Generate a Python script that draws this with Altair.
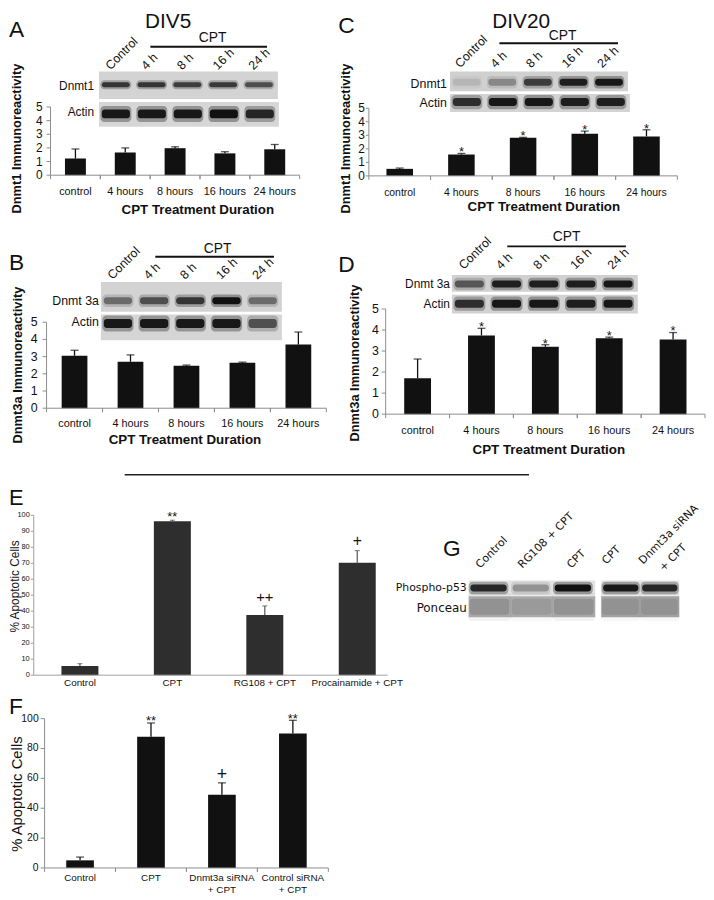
import altair as alt
import pandas as pd

# ---------------- data ----------------
time_cats = ["control", "4 hours", "8 hours", "16 hours", "24 hours"]
lane_names = ["Control", "4 h", "8 h", "16 h", "24 h"]
ticks_5 = [0, 1, 2, 3, 4, 5]
ticks_e = [0, 10, 20, 30, 40, 50, 60, 70, 80, 90, 100]
ticks_f = [0, 20, 40, 60, 80, 100]

a_vals = [1.22, 1.67, 1.98, 1.60, 1.90]
a_errs = [0.70, 0.33, 0.10, 0.12, 0.35]
a_sig = ["", "", "", "", ""]

b_vals = [3.05, 2.70, 2.47, 2.64, 3.70]
b_errs = [0.32, 0.40, 0.04, 0.04, 0.73]
b_sig = ["", "", "", "", ""]

c_vals = [0.52, 1.58, 2.82, 3.12, 2.92]
c_errs = [0.06, 0.08, 0.03, 0.19, 0.49]
c_sig = ["", "*", "*", "*", "*"]

d_vals = [1.71, 3.74, 3.20, 3.61, 3.55]
d_errs = [0.91, 0.34, 0.10, 0.05, 0.33]
d_sig = ["", "*", "*", "*", "*"]

e_cats = ["Control", "CPT", "RG108 + CPT", "Procainamide + CPT"]
e_vals = [5.8, 96.3, 37.7, 70.3]
e_errs = [1.4, 0.6, 5.6, 7.6]
e_sig = ["", "**", "++", "+"]

f_cats = ["Control", "CPT", "Dnmt3a siRNA\n+ CPT", "Control siRNA\n+ CPT"]
f_vals = [5.1, 87.9, 49.0, 90.1]
f_errs = [2.2, 9.2, 8.0, 8.8]
f_sig = ["", "**", "+", "**"]

# western blot band intensities (0 = none, 1 = darkest)
a_dnmt1_bands = [0.75, 0.75, 0.70, 0.72, 0.60]
a_actin_bands = [0.95, 0.95, 0.95, 1.00, 0.85]
c_dnmt1_bands = [0.10, 0.30, 0.70, 0.90, 0.95]
c_actin_bands = [0.80, 0.95, 0.95, 0.90, 0.90]
b_dnmt3a_bands = [0.45, 0.60, 0.75, 1.00, 0.45]
b_actin_bands = [0.95, 0.95, 0.95, 0.95, 0.60]
d_dnmt3a_bands = [0.55, 0.90, 0.90, 0.90, 0.95]
d_actin_bands = [0.80, 0.95, 0.95, 0.90, 0.95]
g_lanes_1 = ["Control", "RG108 + CPT", "CPT"]
g_lanes_2 = ["CPT", "Dnmt3a siRNA"]
g_p53_bands_1 = [0.85, 0.30, 1.00]
g_p53_bands_2 = [0.95, 0.85]
g_ponceau_1 = [0.15, 0.10, 0.15]
g_ponceau_2 = [0.10, 0.10]

# ---------------- layout helpers ----------------
W, H = 706, 892
FONT = "Liberation Sans"
ONE = pd.DataFrame({"k": [0]})


def px(x):
    return x - 8


def py(y):
    return y - 8


def text(t, x, y, size=12, align="left", baseline="alphabetic", angle=0,
         weight="normal", font=FONT, color="#111"):
    return alt.Chart(ONE).mark_text(
        fontSize=size, align=align, baseline=baseline, angle=angle,
        fontWeight=weight, font=font, color=color
    ).encode(x=alt.value(px(x)), y=alt.value(py(y)), text=alt.value(t))


def hline(x0, x1, y, color="#111", w=2.0):
    return alt.Chart(ONE).mark_rule(color=color, strokeWidth=w).encode(
        x=alt.value(px(x0)), x2=alt.value(px(x1)), y=alt.value(py(y)))


def vline(x, y0, y1, color="#111", w=1.0):
    return alt.Chart(ONE).mark_rule(color=color, strokeWidth=w).encode(
        x=alt.value(px(x)), y=alt.value(py(y0)), y2=alt.value(py(y1)))


def box(x0, x1, y0, y1, fill):
    return alt.Chart(ONE).mark_rect(fill=fill).encode(
        x=alt.value(px(x0)), x2=alt.value(px(x1)),
        y=alt.value(py(y0)), y2=alt.value(py(y1)))


def blot(intens, x0, x1, y0, y1, bc, bh, bg, f0=0.08, f1=0.86, dark="#111"):
    n = len(intens)
    df = pd.DataFrame({"lane": list(range(n)), "k": intens})
    xs = alt.Scale(domain=[0, n], range=[px(x0), px(x1)], nice=False, zero=False)
    halo = alt.Chart(df).transform_calculate(
        a=f"datum.lane + {f0 - 0.04}", b=f"datum.lane + {f1 + 0.04}", o="datum.k * 0.35"
    ).mark_rect(fill=dark, cornerRadius=4).encode(
        x=alt.X("a:Q", scale=xs, axis=None), x2="b:Q",
        y=alt.value(py(bc - bh * 0.9)), y2=alt.value(py(bc + bh * 0.9)),
        opacity=alt.Opacity("o:Q", scale=None))
    core = alt.Chart(df).transform_calculate(
        a=f"datum.lane + {f0}", b=f"datum.lane + {f1}", o="datum.k"
    ).mark_rect(fill=dark, cornerRadius=3).encode(
        x=alt.X("a:Q", scale=xs, axis=None), x2="b:Q",
        y=alt.value(py(bc - bh / 2)), y2=alt.value(py(bc + bh / 2)),
        opacity=alt.Opacity("o:Q", scale=None))
    return alt.layer(box(x0, x1, y0, y1, bg), halo, core)


def lane_labels(names, offs, x0, x1, y, size=12.5, font=FONT):
    n = len(names)
    df = pd.DataFrame({"lane": list(range(n)), "t": names, "off": offs})
    xs = alt.Scale(domain=[0, n], range=[px(x0), px(x1)], nice=False, zero=False)
    return alt.Chart(df).transform_calculate(c="datum.lane + datum.off").mark_text(
        angle=315, align="left", baseline="alphabetic", fontSize=size, font=font, color="#111"
    ).encode(x=alt.X("c:Q", scale=xs, axis=None), y=alt.value(py(y)), text="t:N")


def bar_panel(cats, vals, errs, sigs, yticks, ax_x, ax_end, y0, ytop, ymax,
              bar_frac=0.42, fill="#111", err_color="#111", cap=8, err_w=1.3,
              ylab_size=11, ylab_pad=4, ytick_size=4, xlab_size=11, xlab_pad=10,
              sig_style=None, dom_color="#8c8c8c", dom_end=None, bticks=True):
    df = pd.DataFrame({"cat": cats, "v": vals,
                       "hi": [round(v + e, 3) for v, e in zip(vals, errs)],
                       "sig": sigs})
    tdf = pd.DataFrame({"t": yticks})
    xs = alt.Scale(domain=cats, range=[px(ax_x), px(ax_end)], paddingInner=0, paddingOuter=0)
    ys = alt.Scale(domain=[0, ymax], range=[py(y0), py(ytop)], nice=False, zero=False)
    xc = alt.X("cat:N", scale=xs, axis=None)
    base = alt.Chart(df)
    layers = [
        base.mark_bar(fill=fill, width={"band": bar_frac}).encode(
            x=xc, y=alt.Y("v:Q", scale=ys, axis=None)),
        base.mark_rule(color=err_color, strokeWidth=err_w).encode(
            x=xc, y=alt.Y("v:Q", scale=ys, axis=None), y2="hi:Q"),
        base.mark_tick(color=err_color, thickness=err_w, size=cap).encode(
            x=xc, y=alt.Y("hi:Q", scale=ys, axis=None)),
        # y axis
        vline(ax_x, y0, ytop, color=dom_color),
        alt.Chart(tdf).mark_rule(color=dom_color).encode(
            y=alt.Y("t:Q", scale=ys, axis=None),
            x=alt.value(px(ax_x) - ytick_size), x2=alt.value(px(ax_x))),
        alt.Chart(tdf).mark_text(align="right", baseline="middle", fontSize=ylab_size,
                                 font=FONT, color="#111").encode(
            y=alt.Y("t:Q", scale=ys, axis=None),
            x=alt.value(px(ax_x) - ytick_size - ylab_pad), text="t:Q"),
        # x axis
        hline(ax_x, dom_end if dom_end else ax_end, y0, color=dom_color, w=1),
        base.mark_text(baseline="top", align="center", fontSize=xlab_size, font=FONT,
                       color="#111", lineBreak="\n", lineHeight=12).encode(
            x=xc, y=alt.value(py(y0) + xlab_pad), text="cat:N"),
    ]
    if bticks:
        for bp in (0, 1):
            layers.append(base.mark_rule(color=dom_color, strokeWidth=1).encode(
                x=alt.X("cat:N", scale=xs, axis=None, bandPosition=bp),
                y=alt.value(py(y0)), y2=alt.value(py(y0) + 4)))
    if sig_style:
        for sym, (fs, dy) in sig_style.items():
            layers.append(base.transform_filter(f"datum.sig == '{sym}'").mark_text(
                fontSize=fs, dy=dy, baseline="alphabetic", font=FONT, color="#111"
            ).encode(x=xc, y=alt.Y("hi:Q", scale=ys, axis=None), text="sig:N"))
    return alt.layer(*layers)


parts = []

# ---------------- Panel A ----------------
parts += [
    text("A", 9, 32, size=23),
    text("DIV5", 170, 23, size=21, align="center"),
    lane_labels(lane_names, [0.32] * 5, 100, 281, 66),
    text("CPT", 215, 37, size=14, align="center"),
    hline(152, 270, 42),
    blot(a_dnmt1_bands, 100, 281, 67, 95, 80.5, 5, "#d3d3d3"),
    blot(a_actin_bands, 100, 282, 98, 123, 110, 9, "#d6d6d6"),
    text("Dnmt1", 95, 82, size=12, align="right", baseline="middle"),
    text("Actin", 95, 108, size=12, align="right", baseline="middle"),
    bar_panel(time_cats, a_vals, a_errs, a_sig, ticks_5, 51, 303, 172, 103, 5,
              bar_frac=0.42, ylab_size=12, xlab_pad=11),
    text("Dnmt1 Immunoreactivity", 17, 135, size=13, align="center", baseline="middle",
         angle=270, weight="bold"),
    text("CPT Treatment Duration", 200, 207, size=13.5, align="center", baseline="middle",
         weight="bold"),
]

# ---------------- Panel C ----------------
parts += [
    text("C", 342, 28, size=23),
    text("DIV20", 527, 23, size=21, align="center"),
    lane_labels(lane_names, [0.28] * 5, 455, 635, 64),
    text("CPT", 569, 35.5, size=14, align="center"),
    hline(505, 625, 38.5),
    blot(c_dnmt1_bands, 455, 635, 67, 87, 78, 7, "#d0d0d0"),
    blot(c_actin_bands, 455, 637, 90, 108, 98, 8, "#d3d3d3"),
    text("Dnmt1", 452, 80, size=12.5, align="right", baseline="middle"),
    text("Actin", 452, 99, size=12.5, align="right", baseline="middle"),
    bar_panel(time_cats, c_vals, c_errs, c_sig, ticks_5, 373, 685, 172.7, 104.3, 5,
              bar_frac=0.43, ylab_size=12, ylab_pad=1, ytick_size=3, xlab_size=10.5,
              xlab_pad=12, sig_style={"*": (13, 3)}),
    text("Dnmt1 Immunoreactivity", 350, 135, size=13, align="center", baseline="middle",
         angle=270, weight="bold"),
    text("CPT Treatment Duration", 550, 204, size=13.5, align="center", baseline="middle",
         weight="bold"),
]

# ---------------- Panel B ----------------
parts += [
    text("B", 9, 268, size=23),
    lane_labels(lane_names, [0.32] * 5, 102, 285, 278),
    text("CPT", 220, 251, size=14, align="center"),
    hline(157, 277, 254.5),
    blot(b_dnmt3a_bands, 102, 285, 280, 310, 299, 7, "#d3d3d3"),
    blot(b_actin_bands, 102, 285, 313, 339, 322, 9, "#d5d5d5"),
    text("Dnmt 3a", 100, 299, size=12.5, align="right", baseline="middle"),
    text("Actin", 100, 321, size=12.5, align="right", baseline="middle"),
    bar_panel(time_cats, b_vals, b_errs, b_sig, ticks_5, 47, 330, 407.7, 320.7, 5,
              bar_frac=0.46, ylab_size=12.5, ylab_pad=5, xlab_pad=10),
    text("Dnmt3a Immunoreactivity", 18, 364, size=13, align="center", baseline="middle",
         angle=270, weight="bold"),
    text("CPT Treatment Duration", 187, 440, size=13.5, align="center", baseline="middle",
         weight="bold"),
]

# ---------------- Panel D ----------------
parts += [
    text("D", 342, 270, size=23),
    lane_labels(lane_names, [0.32] * 5, 457, 645, 268),
    text("CPT", 573, 238.5, size=14, align="center"),
    hline(513, 633, 244),
    blot(d_dnmt3a_bands, 457, 645, 273, 290, 282, 7, "#d0d0d0"),
    blot(d_actin_bands, 457, 645, 293, 312, 302, 8, "#d2d2d2"),
    text("Dnmt 3a", 455, 282, size=12, align="right", baseline="middle"),
    text("Actin", 455, 302, size=12, align="right", baseline="middle"),
    bar_panel(time_cats, d_vals, d_errs, d_sig, ticks_5, 390, 713, 413.7, 307.3, 5,
              bar_frac=0.42, ylab_size=12.5, ylab_pad=3, xlab_pad=11,
              sig_style={"*": (13, 3)}),
    text("Dnmt3a Immunoreactivity", 359, 362, size=13, align="center", baseline="middle",
         angle=270, weight="bold"),
    text("CPT Treatment Duration", 555, 450, size=13.5, align="center", baseline="middle",
         weight="bold"),
]

# separator
parts.append(hline(126, 535, 475, color="#222", w=1.5))

# ---------------- Panel E ----------------
parts += [
    text("E", 9, 506, size=22),
    bar_panel(e_cats, e_vals, e_errs, e_sig, ticks_e, 34, 408, 677.7, 516, 100,
              bar_frac=0.40, fill="#2e2e2e", err_color="#555", cap=5, err_w=1.2,
              ylab_size=7.5, ylab_pad=1, ytick_size=3, xlab_size=10, xlab_pad=3,
              dom_color="#a0a0a0", dom_end=392, bticks=False,
              sig_style={"**": (13, 1), "++": (15, -4), "+": (16, -5)}),
    text("% Apoptotic Cells", 15.5, 588, size=12, align="center", baseline="middle",
         angle=270),
]

# ---------------- Panel F ----------------
parts += [
    text("F", 9, 717, size=23),
    bar_panel(f_cats, f_vals, f_errs, f_sig, ticks_f, 45, 332, 872.7, 721.7, 100,
              bar_frac=0.39, ylab_size=10.5, ylab_pad=2, ytick_size=4, xlab_size=10,
              xlab_pad=5, sig_style={"**": (13, 2.5), "+": (18, -3)}),
    text("% Apoptotic Cells", 17, 798, size=15, align="center", baseline="middle", angle=270),
]

# ---------------- Panel G ----------------
GF = "DejaVu Sans"
parts += [
    text("G", 448, 557, size=23),
    lane_labels(g_lanes_1, [0.27, 0.27, 0.43], 474, 602, 570, size=11, font=GF),
    lane_labels(g_lanes_2, [0.13, 0.07], 608, 687, 566, size=11, font=GF),
    text("+ CPT", 671, 573, size=11, angle=315, font=GF),
    blot(g_p53_bands_1, 474, 602, 582, 597, 589.5, 7, "#e2e2e2", f0=0.04, f1=0.9),
    blot(g_p53_bands_2, 608, 687, 582, 597, 589.5, 7, "#e2e2e2", f0=0.05, f1=0.95),
    blot(g_ponceau_1, 474, 602, 598, 619, 608.5, 16, "#b0b0b0", f0=0.02, f1=0.96),
    blot(g_ponceau_2, 608, 687, 598, 619, 608.5, 16, "#a6a6a6", f0=0.02, f1=0.96),
    text("Phospho-p53", 472, 590, size=11, align="right", baseline="middle", font=GF),
    text("Ponceau", 472, 610, size=12, align="right", baseline="middle", font=GF),
]

chart = alt.layer(*parts).resolve_scale(
    x="independent", y="independent", opacity="independent"
).properties(
    width=W, height=H, autosize=alt.AutoSizeParams(type="none"), padding=0
).configure_view(stroke=None)

chart.save("out.html", embed_options={"renderer": "svg", "actions": False})
